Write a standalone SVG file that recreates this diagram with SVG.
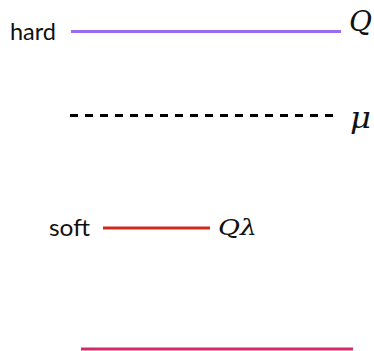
<svg xmlns="http://www.w3.org/2000/svg" width="374" height="351" viewBox="0 0 374 351">
<style>
.lbl{font-family:"Lato","Liberation Sans",sans-serif;font-size:23px;fill:#111}
.math{font-family:"DejaVu Serif","Liberation Serif",serif;font-style:italic;fill:#111}
.ln{stroke-width:3;fill:none}
</style>
<rect width="374" height="351" fill="#fff"/>
<g id="connectors">
<line class="ln" x1="71" y1="31.5" x2="341" y2="31.5" stroke="#9b6cf0"/>
<line class="ln" x1="70" y1="115.5" x2="338" y2="115.5" stroke="#000" stroke-dasharray="8 7"/>
<line class="ln" x1="103" y1="228" x2="210" y2="228" stroke="#cc2a1e"/>
<line class="ln" x1="81" y1="349" x2="353" y2="349" stroke="#d6286a"/>
</g>
<g id="hard"><text class="lbl" x="10" y="40" textLength="46" lengthAdjust="spacingAndGlyphs">hard</text></g>
<g id="Q"><text class="math" x="349" y="31" font-size="28" textLength="23" lengthAdjust="spacingAndGlyphs">Q</text></g>
<g id="mu"><text class="math" x="350" y="128" font-size="30" textLength="21" lengthAdjust="spacingAndGlyphs">μ</text></g>
<g id="soft"><text class="lbl" x="49" y="236" textLength="41" lengthAdjust="spacingAndGlyphs">soft</text></g>
<g id="Qlambda"><text class="math" x="218" y="235" font-size="23" textLength="39" lengthAdjust="spacingAndGlyphs">Qλ</text></g>
</svg>
